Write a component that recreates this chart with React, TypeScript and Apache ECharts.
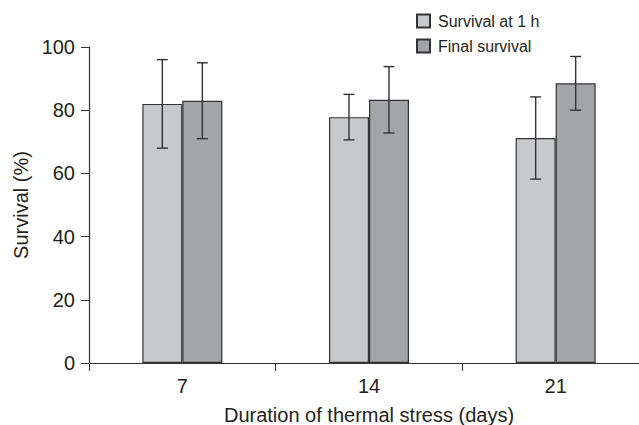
import React, { useEffect, useRef } from "react";
import * as echarts from "echarts";

const categories = ["7", "14", "21"];
const survival1h = [82, 77.8, 71.2];
const survival1hErr = [14, 7.2, 13];
const finalSurvival = [83, 83.3, 88.5];
const finalSurvivalErr = [12, 10.5, 8.5];
const yTicks = [0, 20, 40, 60, 80, 100];

const BAR_W = 40;
const TEXT = "#231f20";
const LINE = "#333333";
const FONT = "Liberation Sans, Arial, sans-serif";

function errorSeries(values: number[], errs: number[], sign: number) {
  return {
    type: "custom",
    silent: true,
    z: 5,
    data: values.map((v, i) => [i, v - errs[i], v + errs[i]]),
    renderItem: (params: any, api: any) => {
      const i = api.value(0);
      const lo = api.coord([i, api.value(1)]);
      const hi = api.coord([i, api.value(2)]);
      const x = lo[0] + (sign * BAR_W) / 2;
      const cap = 5.5;
      const style = { stroke: LINE, lineWidth: 1.4 };
      return {
        type: "group",
        children: [
          { type: "line", shape: { x1: x, y1: lo[1], x2: x, y2: hi[1] }, style },
          { type: "line", shape: { x1: x - cap, y1: lo[1], x2: x + cap, y2: lo[1] }, style },
          { type: "line", shape: { x1: x - cap, y1: hi[1], x2: x + cap, y2: hi[1] }, style },
        ],
      };
    },
  };
}

export default function App() {
  const ref = useRef<HTMLDivElement>(null);
  useEffect(() => {
    if (!ref.current) return;
    const chart = echarts.init(ref.current, undefined, { renderer: "svg" });
    chart.setOption({
      animation: false,
      backgroundColor: "#ffffff",
      textStyle: { fontFamily: FONT, color: TEXT },
      legend: {
        data: ["Survival at 1 h", "Final survival"],
        orient: "vertical",
        left: 411,
        top: 8,
        icon: "rect",
        itemWidth: 13,
        itemHeight: 13,
        itemGap: 9,
        textStyle: { fontSize: 16, color: TEXT, fontFamily: FONT, padding: [0, 0, 0, 3] },
        selectedMode: false,
      },
      grid: { left: 89, top: 47, bottom: 62, width: 560, containLabel: false, outerBoundsMode: "none" },
      xAxis: {
        type: "category",
        data: categories,
        name: "Duration of thermal stress (days)",
        nameLocation: "middle",
        nameGap: 42,
        nameTextStyle: { fontSize: 20, color: TEXT, fontFamily: FONT },
        axisLine: { show: true, lineStyle: { color: LINE, width: 1.2 } },
        axisTick: { show: true, length: 8, lineStyle: { color: LINE } },
        axisLabel: { fontSize: 20, color: TEXT, margin: 13, fontFamily: FONT },
        splitLine: { show: false },
      },
      yAxis: {
        type: "value",
        min: yTicks[0],
        max: yTicks[yTicks.length - 1],
        interval: 20,
        name: "Survival (%)",
        nameLocation: "middle",
        nameGap: 58,
        nameTextStyle: { fontSize: 20, color: TEXT, fontFamily: FONT },
        axisLine: { show: true, lineStyle: { color: LINE, width: 1.2 } },
        axisTick: { show: true, length: 8, lineStyle: { color: LINE } },
        axisLabel: { fontSize: 20, color: TEXT, margin: 14, fontFamily: FONT },
        splitLine: { show: false },
      },
      series: [
        {
          name: "Survival at 1 h",
          type: "bar",
          data: survival1h,
          barWidth: BAR_W,
          barGap: "0%",
          itemStyle: { color: "#c8c9cb", borderColor: LINE, borderWidth: 1.2 },
        },
        {
          name: "Final survival",
          type: "bar",
          data: finalSurvival,
          barWidth: BAR_W,
          barGap: "0%",
          itemStyle: { color: "#a4a5a8", borderColor: LINE, borderWidth: 1.2 },
        },
        errorSeries(survival1h, survival1hErr, -1),
        errorSeries(finalSurvival, finalSurvivalErr, 1),
      ],
    });
    return () => chart.dispose();
  }, []);
  return (
    <div
      ref={ref}
      style={{ position: "fixed", left: 0, top: 0, width: 639, height: 425 }}
    />
  );
}
